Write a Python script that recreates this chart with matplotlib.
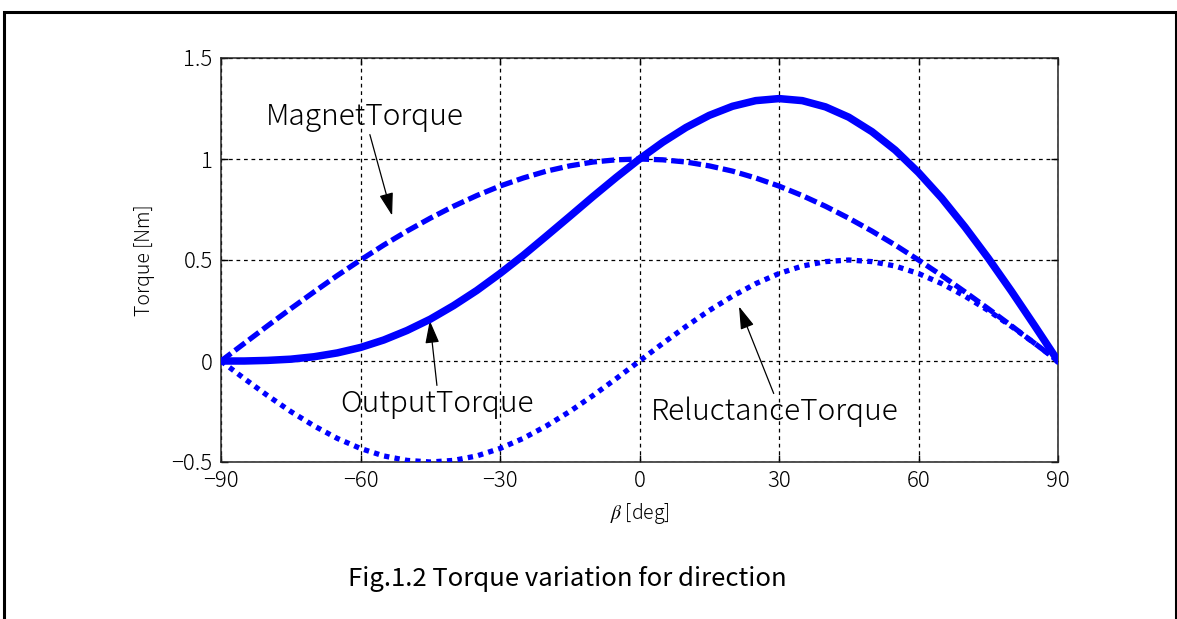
import matplotlib
matplotlib.use('Agg')
import matplotlib.pyplot as plt
from matplotlib.patches import Rectangle

plt.rcParams['font.family'] = ['Noto Sans CJK JP', 'DejaVu Sans']
plt.rcParams['mathtext.fontset'] = 'stix'

# current phase angle [deg] and torques [Nm], every 5 deg
beta = [-90, -85, -80, -75, -70, -65, -60, -55, -50, -45, -40, -35, -30,
        -25, -20, -15, -10, -5, 0, 5, 10, 15, 20, 25, 30, 35, 40, 45,
        50, 55, 60, 65, 70, 75, 80, 85, 90]
magnet = [0.000, 0.087, 0.174, 0.259, 0.342, 0.423, 0.500, 0.574, 0.643,
          0.707, 0.766, 0.819, 0.866, 0.906, 0.940, 0.966, 0.985, 0.996,
          1.000, 0.996, 0.985, 0.966, 0.940, 0.906, 0.866, 0.819, 0.766,
          0.707, 0.643, 0.574, 0.500, 0.423, 0.342, 0.259, 0.174, 0.087, 0.000]
reluct = [0.000, -0.087, -0.171, -0.250, -0.321, -0.383, -0.433, -0.470,
          -0.492, -0.500, -0.492, -0.470, -0.433, -0.383, -0.321, -0.250,
          -0.171, -0.087, 0.000, 0.087, 0.171, 0.250, 0.321, 0.383, 0.433,
          0.470, 0.492, 0.500, 0.492, 0.470, 0.433, 0.383, 0.321, 0.250,
          0.171, 0.087, 0.000]
output = [0.000, 0.000, 0.003, 0.009, 0.021, 0.040, 0.067, 0.104, 0.151,
          0.207, 0.274, 0.349, 0.433, 0.523, 0.619, 0.716, 0.814, 0.909,
          1.000, 1.083, 1.156, 1.216, 1.261, 1.289, 1.299, 1.289, 1.258,
          1.207, 1.135, 1.044, 0.933, 0.806, 0.663, 0.509, 0.345, 0.174, 0.000]

xticks = [-90, -60, -30, 0, 30, 60, 90]
yticks = [-0.5, 0, 0.5, 1, 1.5]
ytick_labels = ['\u22120.5', '0', '0.5', '1', '1.5']
xtick_labels = ['\u221290', '\u221260', '\u221230', '0', '30', '60', '90']

blue = '#0000ff'

fig = plt.figure(figsize=(11.77, 6.19), dpi=100)
W, H = 1177, 619

# frame around the whole figure
fig.patches.append(Rectangle((4 / W, -0.05), 1172 / W, 1.05 - 12 / H,
                             transform=fig.transFigure, fill=False,
                             edgecolor='black', linewidth=2.2))

ax = fig.add_axes([221 / W, 1 - 462 / H, 837 / W, 404 / H])

ax.plot(beta, magnet, color=blue, lw=3.8, dashes=(2.4, 0.9),
        dash_capstyle='butt', zorder=3)
ax.plot(beta, reluct, color=blue, lw=3.8, dashes=(1.0, 1.0),
        dash_capstyle='butt', zorder=3)
ax.plot(beta, output, color=blue, lw=5.4, solid_capstyle='round',
        solid_joinstyle='round', zorder=4)

ax.set_xlim(-90, 90)
ax.set_ylim(-0.5, 1.5)
ax.set_xticks(xticks)
ax.set_xticklabels(xtick_labels)
ax.set_yticks(yticks)
ax.set_yticklabels(ytick_labels)
ax.tick_params(direction='in', length=5, width=1, top=True, right=True,
               labelsize=16, pad=6, colors='black')
for lab in ax.get_xticklabels() + ax.get_yticklabels():
    lab.set_fontweight('light')
ax.grid(True, color='black', linestyle=(0, (3, 3)), linewidth=0.9)
for s in ax.spines.values():
    s.set_linewidth(1.1)
    s.set_color('#222222')

ax.set_ylabel('Torque [Nm]', fontsize=14, fontweight='light', labelpad=12)
ax.set_xlabel(r'$\beta$ [deg]', fontsize=14, fontweight='light', labelpad=6)

arrow = dict(arrowstyle='-|>,head_length=0.65,head_width=0.2', color='black',
             lw=0.9, shrinkA=0, shrinkB=0)
ax.annotate('MagnetTorque', xy=(-53.2, 0.72), xytext=(-59.0, 1.21),
            ha='center', va='center', fontsize=21.5, fontweight='light',
            arrowprops=dict(arrow, relpos=(0.52, 0.0)))
ax.annotate('OutputTorque', xy=(-45.1, 0.20), xytext=(-43.5, -0.21),
            ha='center', va='center', fontsize=21.5, fontweight='light',
            arrowprops=dict(arrow, relpos=(0.5, 1.0)))
ax.annotate('ReluctanceTorque', xy=(21.4, 0.27), xytext=(29.1, -0.25),
            ha='center', va='center', fontsize=21.5, fontweight='light',
            arrowprops=dict(arrow, relpos=(0.5, 1.0)))

fig.text(567 / W, 1 - 579 / H, 'Fig.1.2 Torque variation for direction',
         ha='center', va='center', fontsize=18.5)

fig.savefig('out.png', dpi=100)
